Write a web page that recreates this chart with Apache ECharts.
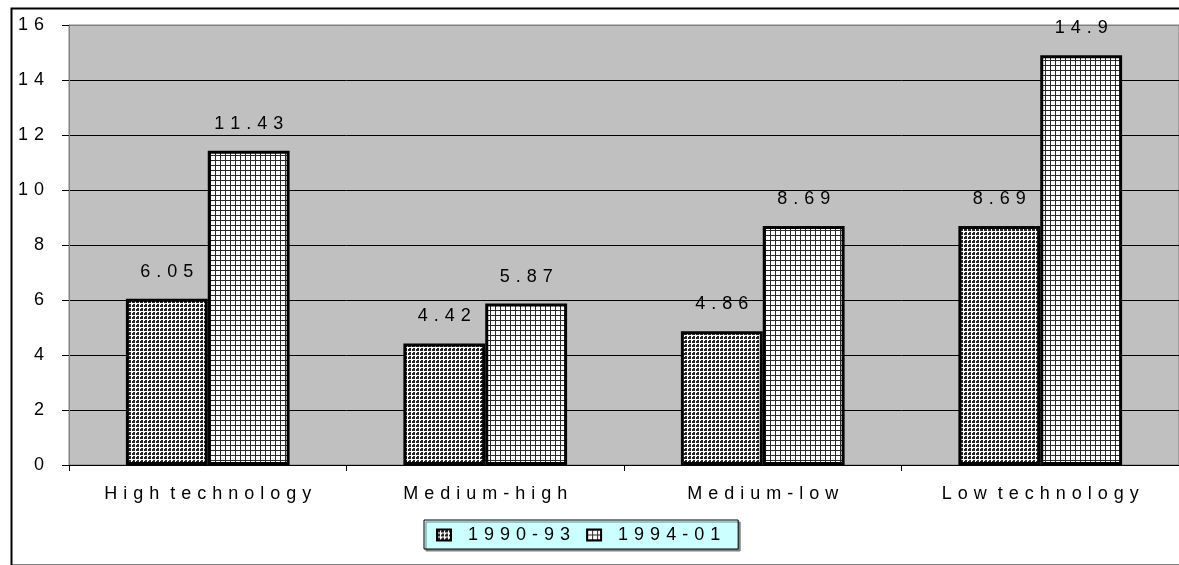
<!DOCTYPE html>
<html>
<head>
<meta charset="utf-8">
<script src="https://cdn.jsdelivr.net/npm/echarts@6/dist/echarts.min.js"></script>
<style>
  html, body { margin: 0; padding: 0; background: #fff; }
  #chart { width: 1179px; height: 565px; }
</style>
</head>
<body>
<div id="chart"></div>
<script>
// Technology-intensity groups and the two periods compared
const categories = ['High technology', 'Medium-high', 'Medium-low', 'Low technology'];
const seriesNames = ['1990-93', '1994-01'];
const values1990 = [6.05, 4.42, 4.86, 8.69];
const values1994 = [11.43, 5.87, 8.69, 14.9];
const yTicks = [0, 2, 4, 6, 8, 10, 12, 14, 16];

const FONT = '"Liberation Sans", Arial, sans-serif';
const FONT_SIZE = 18;
const SEP = '\u2004';
// widen text by putting a narrow space between every character
// (a word space only gets one extra gap after it)
function spaced(s) {
  return String(s).split('').join(SEP).split(SEP + ' ' + SEP).join(' ' + SEP);
}

// small repeating tiles used as bar fills
function dottedTile() {
  const c = document.createElement('canvas');
  c.width = 4; c.height = 4;
  const g = c.getContext('2d');
  g.fillStyle = '#ffffff'; g.fillRect(0, 0, 4, 4);
  g.fillStyle = '#262626';
  g.fillRect(1, 0, 2, 3);
  g.fillRect(0, 1, 3, 2);
  return c;
}
function gridTile() {
  const c = document.createElement('canvas');
  c.width = 5; c.height = 5;
  const g = c.getContext('2d');
  g.fillStyle = '#ffffff'; g.fillRect(0, 0, 5, 5);
  g.fillStyle = '#2a2a2a';
  g.fillRect(0, 0, 5, 1);
  g.fillRect(0, 0, 1, 5);
  return c;
}
const fillDots = { image: dottedTile(), repeat: 'repeat' };
const fillGrid = { image: gridTile(), repeat: 'repeat' };

const labelStyle = {
  show: true,
  position: 'top',
  distance: 18,
  color: '#000',
  fontFamily: FONT,
  fontSize: FONT_SIZE,
  formatter: p => spaced(p.value)
};

const chart = echarts.init(document.getElementById('chart'), null, { renderer: 'canvas' });
chart.setOption({
  animation: false,
  backgroundColor: '#ffffff',
  textStyle: { fontFamily: FONT },
  graphic: [{
    type: 'rect',
    left: 9, top: 6,
    shape: { width: 1200, height: 557 },
    style: { fill: 'none', stroke: '#000', lineWidth: 2 },
    silent: true
  }],
  grid: {
    left: 69, top: 25, width: 1116, height: 440,
    show: true,
    backgroundColor: '#c0c0c0',
    borderColor: '#808080',
    borderWidth: 1,
    containLabel: false
  },
  legend: {
    data: seriesNames,
    left: 424, top: 520,
    orient: 'horizontal',
    backgroundColor: '#ccffff',
    borderColor: '#000',
    borderWidth: 1,
    shadowColor: '#808080',
    shadowOffsetX: 2,
    shadowOffsetY: 2,
    shadowBlur: 0,
    padding: [6, 18, 5, 12],
    itemGap: 16,
    itemWidth: 14,
    itemHeight: 11,
    icon: 'rect',
    selectedMode: false,
    formatter: name => SEP + SEP + spaced(name),
    textStyle: { color: '#000', fontFamily: FONT, fontSize: FONT_SIZE }
  },
  xAxis: {
    type: 'category',
    data: categories,
    boundaryGap: true,
    axisLine: { lineStyle: { color: '#000', width: 1 } },
    axisTick: { show: true, length: 6, lineStyle: { color: '#000' } },
    axisLabel: {
      margin: 20,
      color: '#000',
      fontFamily: FONT,
      fontSize: FONT_SIZE,
      formatter: v => spaced(v)
    },
    splitLine: { show: false }
  },
  yAxis: {
    type: 'value',
    min: yTicks[0],
    max: yTicks[yTicks.length - 1],
    interval: 2,
    axisLine: { show: true, lineStyle: { color: '#808080', width: 1 } },
    axisTick: { show: true, length: 7, lineStyle: { color: '#000' } },
    axisLabel: {
      margin: 25,
      color: '#000',
      fontFamily: FONT,
      fontSize: FONT_SIZE,
      formatter: v => spaced(v)
    },
    splitLine: {
      show: true,
      lineStyle: {
        color: ['#000', '#000', '#000', '#000', '#000', '#000', '#000', '#000', '#808080'],
        width: 1
      }
    }
  },
  series: [
    {
      name: seriesNames[0],
      type: 'bar',
      data: values1990,
      barWidth: '29.5%',
      barGap: '0%',
      itemStyle: { color: fillDots, borderColor: '#000', borderWidth: 3 },
      label: labelStyle
    },
    {
      name: seriesNames[1],
      type: 'bar',
      data: values1994,
      barWidth: '29.5%',
      barGap: '0%',
      itemStyle: { color: fillGrid, borderColor: '#000', borderWidth: 3 },
      label: labelStyle
    }
  ]
});
</script>
</body>
</html>
